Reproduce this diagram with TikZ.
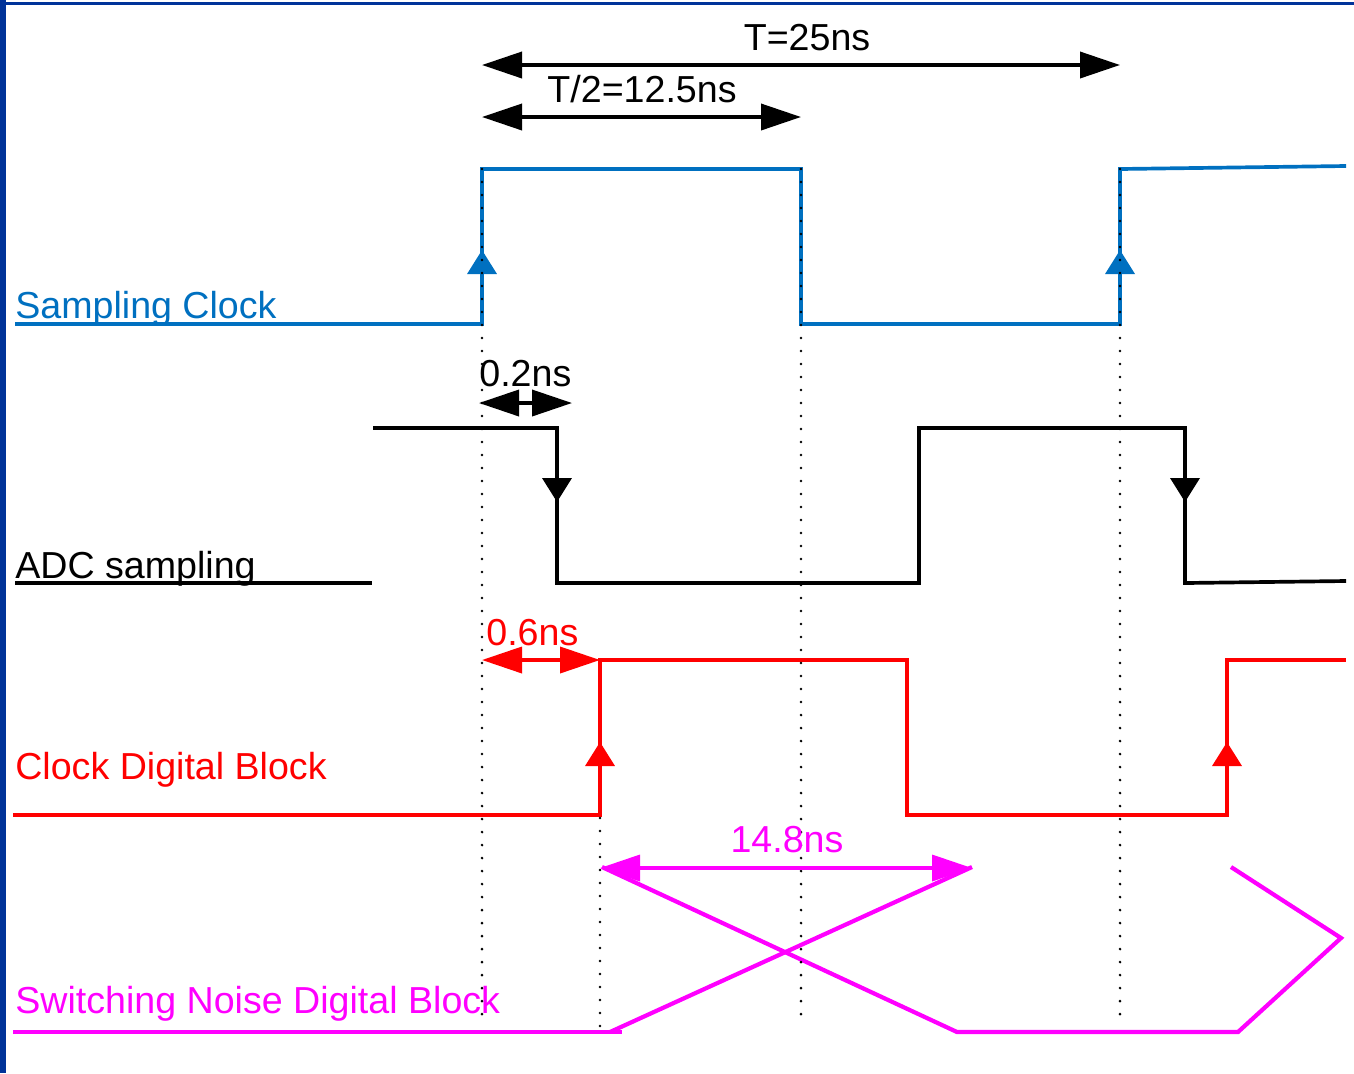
\documentclass[tikz,border=0pt]{standalone}
\usepackage{fontspec}
\setmainfont{Liberation Sans}
\usetikzlibrary{arrows.meta}
\definecolor{sclkblue}{HTML}{0070C0}
\definecolor{frameblue}{HTML}{003399}
\definecolor{digred}{HTML}{FF0000}
\definecolor{noisemag}{HTML}{FF00FF}

\begin{document}
\begin{tikzpicture}[x=0.02cm, y=-0.02cm, font=\fontsize{21.4}{25}\selectfont,
    wave/.style={line width=2.1pt, line join=miter},
    edgetip/.style={-{Triangle[length=0.48cm,width=0.58cm]}},
    dimline/.style={line width=2.1pt, {Triangle[length=0.8cm,width=0.52cm]}-{Triangle[length=0.8cm,width=0.52cm]}},
    gridline/.style={line width=1.6pt, line cap=round, dash pattern=on 0pt off 7.4pt},
    lbl/.style={anchor=base west, inner sep=0pt}]
    \useasboundingbox (0,0) rectangle (1354,1073);
    % frame
    \fill[frameblue] (0,0) rectangle (6,1073);
    \fill[frameblue] (0,2) rectangle (1354,5);

    % sampling clock
    \node[lbl, text=sclkblue] (sclk) at (15,318) {Sampling Clock};
    \draw[wave, sclkblue] (15,324) -- (482,324) -- (482,169) -- (801,169) -- (801,324)
      -- (1120,324) -- (1120,169) -- (1346,166);
    \foreach \x in {482,1120}
      \draw[wave, sclkblue, edgetip] (\x,300) -- (\x,250);

    % adc sampling
    \node[lbl] (adc) at (15,578) {ADC sampling};
    \draw[wave] (15,583) -- (372,583);
    \draw[wave] (373,428) -- (557,428) -- (557,583) -- (919,583) -- (919,428)
      -- (1185,428) -- (1185,583) -- (1346,581);
    \foreach \x in {557,1185}
      \draw[wave, edgetip] (\x,440) -- (\x,502);

    % clock digital block
    \node[lbl, text=digred] (cdig) at (15,779) {Clock Digital Block};
    \draw[wave, digred] (13,815) -- (600,815) -- (600,660) -- (907,660) -- (907,815)
      -- (1227,815) -- (1227,660) -- (1346,660);
    \foreach \x in {600,1227}
      \draw[wave, digred, edgetip] (\x,790) -- (\x,742);

    % switching noise
    \node[lbl, text=noisemag] (noise) at (15,1013) {Switching Noise Digital Block};
    \draw[wave, noisemag, line width=2.4pt] (13,1032) -- (622,1032);
    \draw[wave, noisemag, line width=2.4pt] (610,1032) -- (972,867);
    \draw[wave, noisemag, line width=2.4pt] (602,867) -- (957,1032) -- (1238,1032)
      -- (1341,938) -- (1231,867);

    % timing marks
    \draw[gridline] (482,169) -- (482,1026);
    \draw[gridline] (801,169) -- (801,1024);
    \draw[gridline] (1120,169) -- (1120,1024);
    \draw[gridline] (600,818) -- (600,1032);

    % dimensions
    \coordinate (pA) at (482,65);
    \coordinate (pB) at (1120,65);
    \coordinate (hA) at (482,117);
    \coordinate (hB) at (801,117);
    \coordinate (dA) at (479,403);
    \coordinate (dB) at (572,403);
    \coordinate (rA) at (482,660);
    \coordinate (rB) at (600,660);
    \coordinate (mA) at (600,868);
    \coordinate (mB) at (972,868);
    \draw[dimline] (pA) -- (pB);
    \node[anchor=base, inner sep=0pt] (period) at (807,50) {T=25ns};
    \draw[dimline] (hA) -- (hB);
    \node[anchor=base, inner sep=0pt] (half) at (642,102) {T/2=12.5ns};
    \draw[dimline] (dA) -- (dB);
    \node[lbl] (skew) at (479,386) {0.2ns};
    \draw[dimline, digred] (rA) -- (rB);
    \node[lbl, text=digred] (delay) at (486,645) {0.6ns};
    \draw[dimline, noisemag] (mA) -- (mB);
    \node[anchor=base, inner sep=0pt, text=noisemag] (settle) at (787,852) {14.8ns};
\end{tikzpicture}
\end{document}
